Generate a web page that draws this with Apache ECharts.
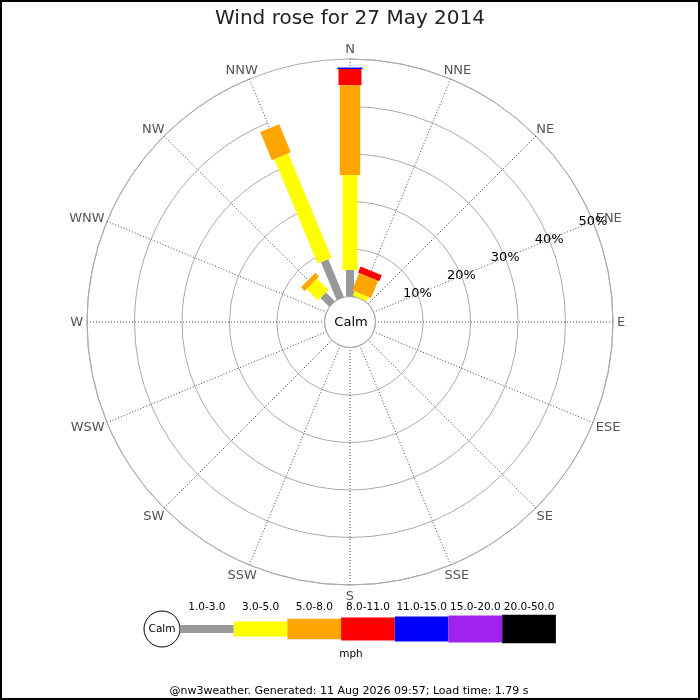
<!DOCTYPE html>
<html><head><meta charset="utf-8">
<script src="https://cdn.jsdelivr.net/npm/echarts@6/dist/echarts.min.js"></script>
<style>html,body{margin:0;padding:0;background:#fff}#c{width:700px;height:700px}</style>
</head><body><div id="c"></div>
<script>
// ---- data ----
const directions = ['N','NNE','NE','ENE','E','ESE','SE','SSE','S','SSW','SW','WSW','W','WNW','NW','NNW'];
const speedBins = ['1.0-3.0','3.0-5.0','5.0-8.0','8.0-11.0','11.0-15.0','15.0-20.0','20.0-50.0'];
//                 N    NNE  NE ENE E ESE SE SSE S SSW SW WSW W WNW NW   NNW
const bin1to3   = [5.6, 0,   0, 0,  0, 0,  0, 0,  0, 0, 0, 0,  0, 0,  2.6, 8.6];
const bin3to5   = [20.0,1.0, 0, 0,  0, 0,  0, 0,  0, 0, 0, 0,  0, 0,  3.4, 23.8];
const bin5to8   = [18.9,3.9, 0, 0,  0, 0,  0, 0,  0, 0, 0, 0,  0, 0,  1.1, 6.4];
const bin8to11  = [3.4, 1.4, 0, 0,  0, 0,  0, 0,  0, 0, 0, 0,  0, 0,  0,   0];
const bin11to15 = [0.3, 0,   0, 0,  0, 0,  0, 0,  0, 0, 0, 0,  0, 0,  0,   0];
const bin15to20 = [0,   0,   0, 0,  0, 0,  0, 0,  0, 0, 0, 0,  0, 0,  0,   0];
const bin20to50 = [0,   0,   0, 0,  0, 0,  0, 0,  0, 0, 0, 0,  0, 0,  0,   0];
const radiusMin = 0, radiusMax = 50, radiusStep = 10;
const titleText = 'Wind rose for 27 May 2014';
const footerText = '@nw3weather. Generated: 11 Aug 2026 09:57; Load time: 1.79 s';
const unitText = 'mph';
const calmText = 'Calm';

// ---- styles ----
const binColors = ['#999999','#ffff00','#ffa500','#ff0000','#0000ff','#a020f0','#000000'];
const binWidths = [8, 15, 20.5, 23, 25, 27, 28.5];
const FONT = 'DejaVu Sans';
const DIR_FONT = '13px "DejaVu Sans"';

const binValues = [bin1to3, bin3to5, bin5to8, bin8to11, bin11to15, bin15to20, bin20to50];

const measureCtx = document.createElement('canvas').getContext('2d');
function textWidth(t, font) { measureCtx.font = font; return measureCtx.measureText(t).width; }

function unitDir(api, idx) {
  const pO = api.coord([radiusMin, idx]);
  const pF = api.coord([radiusMax, idx]);
  let dx = pF[0] - pO[0], dy = pF[1] - pO[1];
  const L = Math.hypot(dx, dy);
  return { dx: dx / L, dy: dy / L, outer: pF };
}

// build stacked segments
const cumulative = directions.map(() => 0);
const series = binValues.map((vals, b) => {
  const data = [];
  vals.forEach((v, i) => {
    const start = cumulative[i];
    const end = start + v;
    cumulative[i] = end;
    if (v > 0) data.push([end, i, start]);
  });
  return {
    type: 'custom',
    name: speedBins[b],
    coordinateSystem: 'polar',
    polarIndex: 0,
    silent: true,
    clip: false,
    z: 5,
    data: data,
    renderItem: function (params, api) {
      const r1 = api.value(0), idx = api.value(1), r0 = api.value(2);
      const pA = api.coord([r0, idx]);
      const pB = api.coord([r1, idx]);
      const d = unitDir(api, idx);
      const h = binWidths[b] / 2;
      const nx = -d.dy * h, ny = d.dx * h;
      return {
        type: 'polygon',
        shape: { points: [
          [pA[0] + nx, pA[1] + ny], [pB[0] + nx, pB[1] + ny],
          [pB[0] - nx, pB[1] - ny], [pA[0] - nx, pA[1] - ny]
        ]},
        style: { fill: binColors[b] }
      };
    }
  };
});

// direction labels just outside the outer ring
series.push({
  type: 'custom',
  coordinateSystem: 'polar',
  polarIndex: 0,
  silent: true,
  clip: false,
  z: 6,
  data: directions.map((d, i) => [radiusMax, i]),
  renderItem: function (params, api) {
    const idx = api.value(1);
    const d = unitDir(api, idx);
    const text = directions[idx];
    const w = textWidth(text, DIR_FONT), h = 13, pad = 4;
    return {
      type: 'text',
      x: d.outer[0] + d.dx * (pad + w / 2),
      y: d.outer[1] + d.dy * (pad + h / 2) + 1,
      style: { text: text, fill: '#555', font: DIR_FONT, align: 'center', verticalAlign: 'middle' }
    };
  }
});

// legend graphics
const legendY = 629, legendX0 = 180, segW = 53.7;
const graphics = [
  { type: 'rect', shape: { x: 1, y: 1, width: 698, height: 698 }, style: { fill: 'none', stroke: '#000', lineWidth: 2 }, z: 100 },
  { type: 'text', x: 351, y: 322.5, style: { text: calmText, fill: '#000', font: '13px "DejaVu Sans"', align: 'center', verticalAlign: 'middle' }, z: 50 },
  { type: 'circle', shape: { cx: 162, cy: legendY, r: 18 }, style: { fill: '#fff', stroke: '#000', lineWidth: 1 }, z: 50 },
  { type: 'text', x: 162, y: legendY, style: { text: calmText, fill: '#000', font: '10.5px "DejaVu Sans"', align: 'center', verticalAlign: 'middle' }, z: 51 },
  { type: 'text', x: 351, y: 654, style: { text: unitText, fill: '#000', font: '10.5px "DejaVu Sans"', align: 'center', verticalAlign: 'middle' }, z: 50 },
  { type: 'text', x: 349, y: 691, style: { text: footerText, fill: '#000', font: '11px "DejaVu Sans"', align: 'center', verticalAlign: 'middle' }, z: 50 }
];
speedBins.forEach((label, b) => {
  const x = legendX0 + b * segW;
  graphics.push({ type: 'rect', shape: { x: x, y: legendY - binWidths[b] / 2, width: segW, height: binWidths[b] }, style: { fill: binColors[b] }, z: 50 });
  graphics.push({ type: 'text', x: x + segW / 2, y: 607, style: { text: label, fill: '#000', font: '10.5px "DejaVu Sans"', align: 'center', verticalAlign: 'middle' }, z: 50 });
});

const chart = echarts.init(document.getElementById('c'), null, { renderer: 'canvas' });
chart.setOption({
  animation: false,
  backgroundColor: '#fff',
  textStyle: { fontFamily: FONT },
  title: {
    text: titleText, left: 'center', top: 4,
    textStyle: { fontFamily: FONT, fontSize: 20, fontWeight: 'normal', color: '#222' }
  },
  polar: [
    { center: ['50%', 322], radius: [25.5, 263] },
    { center: ['50%', 322], radius: [25.5, 263] }
  ],
  angleAxis: [
    {
      polarIndex: 0, type: 'category', data: directions, boundaryGap: false,
      startAngle: 90, clockwise: true,
      axisLine: { show: true, lineStyle: { color: '#aaaaaa', width: 1 } },
      axisTick: { show: false },
      axisLabel: { show: false },
      splitLine: { show: true, lineStyle: { color: '#444', width: 1, type: [1, 2] } },
      z: 1
    },
    {
      polarIndex: 1, type: 'category', data: directions, boundaryGap: false,
      startAngle: 22.5, clockwise: true, show: false
    }
  ],
  radiusAxis: [
    {
      polarIndex: 0, type: 'value', min: radiusMin, max: radiusMax, interval: radiusStep,
      axisLine: { show: false }, axisTick: { show: false }, axisLabel: { show: false },
      splitLine: { show: true, lineStyle: { color: '#aaaaaa', width: 1 } },
      z: 1
    },
    {
      polarIndex: 1, type: 'value', min: radiusMin, max: radiusMax, interval: radiusStep,
      axisLine: { show: false }, axisTick: { show: false }, splitLine: { show: false },
      axisLabel: {
        show: true, formatter: '{value}%', showMinLabel: false, margin: 0,
        align: 'center', verticalAlign: 'middle',
        color: '#000', fontSize: 13, fontFamily: FONT
      },
      z: 10
    }
  ],
  graphic: graphics,
  series: series
});
</script>
</body></html>
